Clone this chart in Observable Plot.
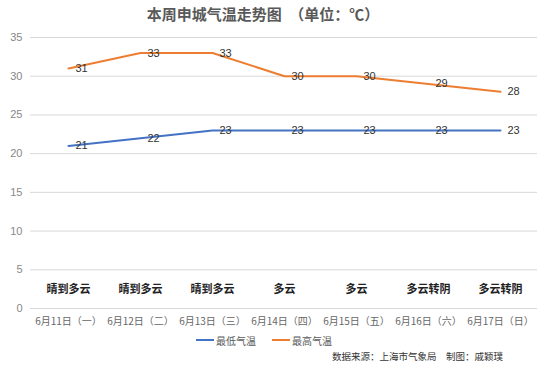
<!DOCTYPE html>
<html>
<head>
<meta charset="utf-8">
<script src="https://cdn.jsdelivr.net/npm/d3@7"></script>
<script src="https://cdn.jsdelivr.net/npm/@observablehq/plot@0.6"></script>
<style>
  html, body { margin: 0; padding: 0; background: #fff; }
  body { width: 550px; height: 365px; overflow: hidden; font-family: "Liberation Sans", "Noto Sans CJK SC", sans-serif; }
  #title { height: 30px; line-height: 28px; text-align: center; font-size: 15px; font-weight: bold; color: #595959; padding-right: 24px; font-family: "Noto Sans CJK SC", sans-serif; }
  #legend { height: 20px; display: flex; justify-content: center; align-items: center; font-size: 10px; color: #595959; padding-right: 22px; font-family: "Noto Sans CJK SC", sans-serif; }
  .item { display: flex; align-items: center; margin: 0 8px; }
  .sw { display: inline-block; width: 18px; height: 0; border-top: 2px solid; margin-right: 2px; }
  #caption { text-align: right; font-size: 9.5px; color: #333; padding-right: 47px; line-height: 12px; font-family: "Noto Sans CJK SC", sans-serif; }
</style>
</head>
<body>
<div id="title">本周申城气温走势图　（单位：℃）</div>
<div id="chart"></div>
<div id="legend"></div>
<div id="caption">数据来源：上海市气象局　制图：戚颖璞</div>
<script>
const dates = ["6月11日（一）", "6月12日（二）", "6月13日（三）", "6月14日（四）", "6月15日（五）", "6月16日（六）", "6月17日（日）"];
const weather = ["晴到多云", "晴到多云", "晴到多云", "多云", "多云", "多云转阴", "多云转阴"];
const lowTemps = [21, 22, 23, 23, 23, 23, 23];
const highTemps = [31, 33, 33, 30, 30, 29, 28];
const yTicks = [0, 5, 10, 15, 20, 25, 30, 35];
const seriesNames = ["最低气温", "最高气温"];
const seriesColors = ["#4472C4", "#ED7D31"];

const rows = [];
dates.forEach((d, i) => {
  rows.push({date: d, series: seriesNames[0], value: lowTemps[i]});
  rows.push({date: d, series: seriesNames[1], value: highTemps[i]});
});
const weatherRows = dates.map((d, i) => ({date: d, label: weather[i]}));
const weatherLabelY = 2.5;

const chart = Plot.plot({
  width: 550,
  height: 300,
  marginLeft: 30,
  marginRight: 13,
  marginTop: 7,
  marginBottom: 22,
  style: {fontFamily: "'Liberation Sans', 'Noto Sans CJK SC', sans-serif", background: "#fff"},
  x: {type: "point", domain: dates, padding: 0.5, label: null},
  y: {domain: [0, 35], label: null},
  color: {domain: seriesNames, range: seriesColors},
  marks: [
    Plot.ruleY(yTicks, {stroke: "#d9d9d9", strokeWidth: 1}),
    Plot.axisY({ticks: yTicks, tickSize: 0, tickPadding: 8, fontSize: 11, color: "#888", label: null}),
    Plot.axisX({tickSize: 0, tickPadding: 9, fontSize: 10, color: "#666", label: null, fontFamily: "'Noto Sans CJK SC', sans-serif"}),
    Plot.line(rows, {x: "date", y: "value", z: "series", stroke: "series", strokeWidth: 2}),
    Plot.text(rows, {x: "date", y: "value", text: d => String(d.value), dx: 13, fontSize: 11, fill: "#333"}),
    Plot.text(weatherRows, {x: "date", y: () => weatherLabelY, text: "label", fontSize: 11, fontWeight: "bold", fill: "#222", fontFamily: "'Noto Sans CJK SC', sans-serif"})
  ]
});
document.getElementById("chart").appendChild(chart);

const legend = document.getElementById("legend");
seriesNames.forEach((n, i) => {
  const it = document.createElement("span");
  it.className = "item";
  const sw = document.createElement("span");
  sw.className = "sw";
  sw.style.borderTopColor = seriesColors[i];
  it.appendChild(sw);
  it.appendChild(document.createTextNode(n));
  legend.appendChild(it);
});
</script>
</body>
</html>
